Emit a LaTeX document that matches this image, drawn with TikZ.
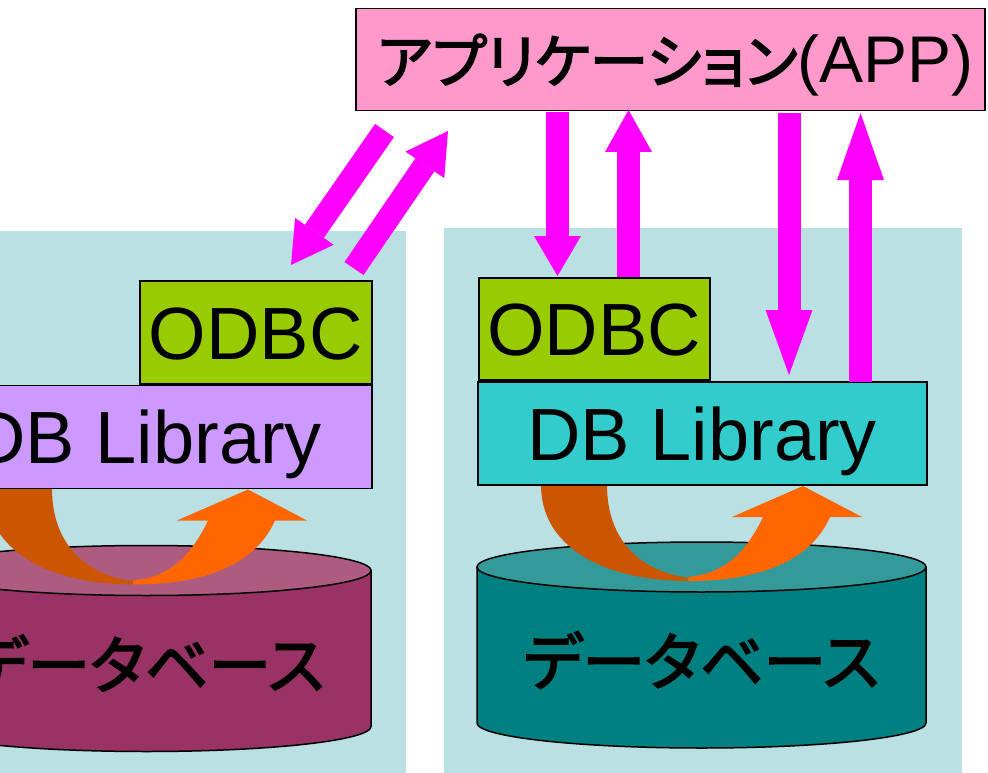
\documentclass[tikz,border=0pt]{standalone}
\usepackage{fontspec}
\setmainfont{Liberation Sans}
\newfontfamily\jp[RawFeature=+palt, FakeBold=2.5]{Noto Sans CJK JP}
\usetikzlibrary{arrows.meta}
\definecolor{panel}{RGB}{186,224,227}
\definecolor{appfill}{HTML}{FF99CC}
\definecolor{odbcfill}{HTML}{99CC00}
\definecolor{libL}{HTML}{CC99FF}
\definecolor{libR}{HTML}{33CCCC}
\definecolor{cylL}{HTML}{993366}
\definecolor{cylLtop}{RGB}{173,92,128}
\definecolor{cylR}{HTML}{008080}
\definecolor{cylRtop}{HTML}{339999}
\definecolor{orlight}{HTML}{FF6600}
\definecolor{ordark}{HTML}{CC5500}
\definecolor{mag}{HTML}{FF00FF}
\tikzset{
  box/.style={draw=black, line width=1.5pt, inner sep=0pt, anchor=north west,
    font=\fontsize{74}{80}\selectfont, text height=54pt, text depth=0pt},
  cylline/.style={draw=black, line width=1.5pt},
  jptext/.style={inner sep=0pt, font=\jp\fontsize{63}{70}\selectfont},
  marrow/.style={draw=mag, line width=23pt,
    -{Triangle[length=#1, width=47pt, line width=0pt]}},
}
\newcommand\dbgroup[4]{%
  % cylinder body and top
  \filldraw[cylline, fill=#1] (477,567) -- (477,723)
     arc[start angle=180, end angle=0, x radius=224.5, y radius=25] -- (926,567) -- cycle;
  \filldraw[cylline, fill=#2] (701.5,567) ellipse[x radius=224.5, y radius=25];
  \node[jptext] (#3) at (701.5,660) {データベース};
  % orange U-turn arrow
  \fill[ordark] (541,485) -- (607,485) .. controls (607,540) and (640,572) .. (690,578)
     -- (690,581) .. controls (600,581) and (541,545) .. (541,485) -- cycle;
  \fill[orlight] (688,581) .. controls (765,581) and (812,558) .. (830,517)
     -- (862,517) -- (803,486) -- (732,517) -- (763,517)
     .. controls (745,555) and (722,574) .. (688,577) -- cycle;
}
\begin{document}
\begin{tikzpicture}[x=1pt,y=-1pt]
\useasboundingbox (0,0) rectangle (988,773);
\clip (0,0) rectangle (988,773);
\fill[white] (0,0) rectangle (988,773);
% background panels
\fill[panel] (0,231) rectangle (406,773);
\fill[panel] (444,228) rectangle (962,773);
% database groups
\dbgroup{cylR}{cylRtop}{dbR}{}
\begin{scope}[shift={(-555,3.5)}]
  \dbgroup{cylL}{cylLtop}{dbL}{}
\end{scope}
% boxes
\node[box, fill=libR, minimum width=449pt, minimum height=103pt] (libR) at (477,381) {DB Library};
\node[box, fill=libL, minimum width=449pt, minimum height=103pt] (libL) at (-78,384.5) {DB Library};
\node[box, fill=odbcfill, minimum width=231pt, minimum height=102pt] (odbcR) at (478,277) {ODBC};
\node[box, fill=odbcfill, minimum width=232pt, minimum height=103pt] (odbcL) at (139,280) {ODBC};
\node[draw=black, line width=1.5pt, fill=appfill, inner sep=0pt, anchor=north west,
      minimum width=629pt, minimum height=102pt] (app) at (355,8) {};
\node[inner sep=0pt, anchor=base west] (applabel) at (377,83)
  {{\jp\fontsize{59}{66}\selectfont アプリケーション}{\fontsize{66}{70}\selectfont(APP)}};
% magenta arrows
\coordinate (a1s) at (384.5,130.5); \coordinate (a1e) at (291,265);
\coordinate (a2s) at (354,268.5);   \coordinate (a2e) at (448,131);
\coordinate (a3s) at (557.5,112);   \coordinate (a3e) at (557.5,276);
\coordinate (a4s) at (628.5,277);   \coordinate (a4e) at (628.5,110);
\coordinate (a5s) at (789,113);     \coordinate (a5e) at (789,375);
\coordinate (a6s) at (860.5,382);   \coordinate (a6e) at (860.5,113);
\draw[marrow=41pt] (a1s) -- (a1e);
\draw[marrow=41pt] (a2s) -- (a2e);
\draw[marrow=40pt] (a3s) -- (a3e);
\draw[marrow=42pt] (a4s) -- (a4e);
\draw[marrow=65pt] (a5s) -- (a5e);
\draw[marrow=67pt] (a6s) -- (a6e);
\end{tikzpicture}
\end{document}
